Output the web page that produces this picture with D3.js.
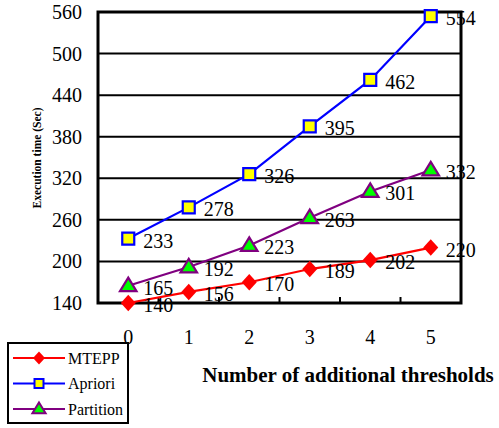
<!DOCTYPE html>
<html lang="en">
<head>
    <meta charset="UTF-8">
    <title>Execution time vs additional thresholds</title>
    <script src="https://d3js.org/d3.v7.min.js"></script>
    <style>
        body { margin: 0; background: #fff; }
    </style>
</head>
<body>
    <svg id="chart" width="499" height="428" font-family="'Liberation Serif', 'Times New Roman', serif"></svg>
    <script>
        // Data
        var thresholds = [0, 1, 2, 3, 4, 5];
        var mtepp = [140, 156, 170, 189, 202, 220];
        var apriori = [233, 278, 326, 395, 462, 554];
        var partition = [165, 192, 223, 263, 301, 332];
        var yTicks = [140, 200, 260, 320, 380, 440, 500, 560];

        var series = [
            { name: "MTEPP", values: mtepp, line: "#ff0000", fill: "#ff0000", stroke: "#ff0000", shape: "diamond" },
            { name: "Apriori", values: apriori, line: "#0000ff", fill: "#ffff00", stroke: "#0000ff", shape: "square" },
            { name: "Partition", values: partition, line: "#800080", fill: "#00ff00", stroke: "#800080", shape: "triangle" }
        ];

        var svg = d3.select("#chart");
        var margin = { top: 12, right: 38, bottom: 125, left: 98 };
        var width = +svg.attr("width") - margin.left - margin.right;
        var height = +svg.attr("height") - margin.top - margin.bottom;

        var x = d3.scalePoint()
            .domain(thresholds)
            .range([0, width])
            .padding(0.5);

        var y = d3.scaleLinear()
            .domain([140, 560])
            .range([height, 0]);

        var g = svg.append("g")
            .attr("transform", "translate(" + margin.left + "," + margin.top + ")");

        // horizontal grid lines
        g.selectAll(".grid")
            .data(yTicks.slice(1, -1))
            .enter().append("line")
            .attr("x1", 0).attr("x2", width)
            .attr("y1", function(d) { return y(d); })
            .attr("y2", function(d) { return y(d); })
            .attr("stroke", "#000")
            .attr("stroke-width", 2);

        // y tick labels
        g.selectAll(".ylab")
            .data(yTicks)
            .enter().append("text")
            .attr("x", -16)
            .attr("y", function(d) { return y(d); })
            .attr("dy", "0.35em")
            .attr("text-anchor", "end")
            .attr("font-size", 20)
            .text(function(d) { return d; });

        // x ticks between categories, pointing up
        var step = x.step();
        g.selectAll(".xtick")
            .data(thresholds.slice(0, -1))
            .enter().append("line")
            .attr("x1", function(d) { return x(d) + step / 2; })
            .attr("x2", function(d) { return x(d) + step / 2; })
            .attr("y1", height)
            .attr("y2", height - 6)
            .attr("stroke", "#000")
            .attr("stroke-width", 2);

        g.selectAll(".xlab")
            .data(thresholds)
            .enter().append("text")
            .attr("x", function(d) { return x(d); })
            .attr("y", height + 41)
            .attr("text-anchor", "middle")
            .attr("font-size", 20)
            .text(function(d) { return d; });

        // plot frame
        g.append("rect")
            .attr("width", width)
            .attr("height", height)
            .attr("fill", "none")
            .attr("stroke", "#000")
            .attr("stroke-width", 3);

        function symbolPath(shape, size) {
            if (shape === "square") return d3.symbol().type(d3.symbolSquare).size(size * size)();
            if (shape === "diamond") return "M0," + (-size * 0.55) + "L" + (size * 0.5) + ",0L0," + (size * 0.55) + "L" + (-size * 0.5) + ",0Z";
            var h = size * 0.9;
            return "M0," + (-h * 0.6) + "L" + (size * 0.55) + "," + (h * 0.4) + "L" + (-size * 0.55) + "," + (h * 0.4) + "Z";
        }

        var line = d3.line()
            .x(function(d, i) { return x(thresholds[i]); })
            .y(function(d) { return y(d); });

        series.forEach(function(s) {
            g.append("path")
                .datum(s.values)
                .attr("fill", "none")
                .attr("stroke", s.line)
                .attr("stroke-width", 2.2)
                .attr("d", line);

            g.selectAll(".m-" + s.name)
                .data(s.values)
                .enter().append("path")
                .attr("transform", function(d, i) { return "translate(" + x(thresholds[i]) + "," + y(d) + ")"; })
                .attr("d", symbolPath(s.shape, s.shape === "square" ? 12 : 15))
                .attr("fill", s.fill)
                .attr("stroke", s.stroke)
                .attr("stroke-width", s.shape === "diamond" ? 0 : 2.2);

            g.selectAll(".l-" + s.name)
                .data(s.values)
                .enter().append("text")
                .attr("x", function(d, i) { return x(thresholds[i]) + 15; })
                .attr("y", function(d) { return y(d) + 2; })
                .attr("dy", "0.35em")
                .attr("font-size", 20)
                .text(function(d) { return d; });
        });

        // axis titles
        svg.append("text")
            .attr("x", 348)
            .attr("y", 382)
            .attr("text-anchor", "middle")
            .attr("font-size", 21)
            .attr("font-weight", "bold")
            .text("Number of additional thresholds");

        svg.append("text")
            .attr("transform", "translate(41,158) rotate(-90)")
            .attr("text-anchor", "middle")
            .attr("font-size", 11.5)
            .attr("font-weight", "bold")
            .text("Execution time (Sec)");

        // legend
        var legend = svg.append("g").attr("transform", "translate(8,343)");
        legend.append("rect")
            .attr("width", 120)
            .attr("height", 80)
            .attr("fill", "#fff")
            .attr("stroke", "#000")
            .attr("stroke-width", 2);

        series.forEach(function(s, i) {
            var row = legend.append("g").attr("transform", "translate(0," + (15 + i * 25.5) + ")");
            row.append("line")
                .attr("x1", 5).attr("x2", 57)
                .attr("stroke", s.line)
                .attr("stroke-width", 2.2);
            row.append("path")
                .attr("transform", "translate(31,0)")
                .attr("d", symbolPath(s.shape, s.shape === "square" ? 9 : 12))
                .attr("fill", s.fill)
                .attr("stroke", s.stroke)
                .attr("stroke-width", s.shape === "diamond" ? 0 : 2);
            row.append("text")
                .attr("x", 60)
                .attr("dy", "0.35em")
                .attr("font-size", 16)
                .text(s.name);
        });
    </script>
</body>
</html>
